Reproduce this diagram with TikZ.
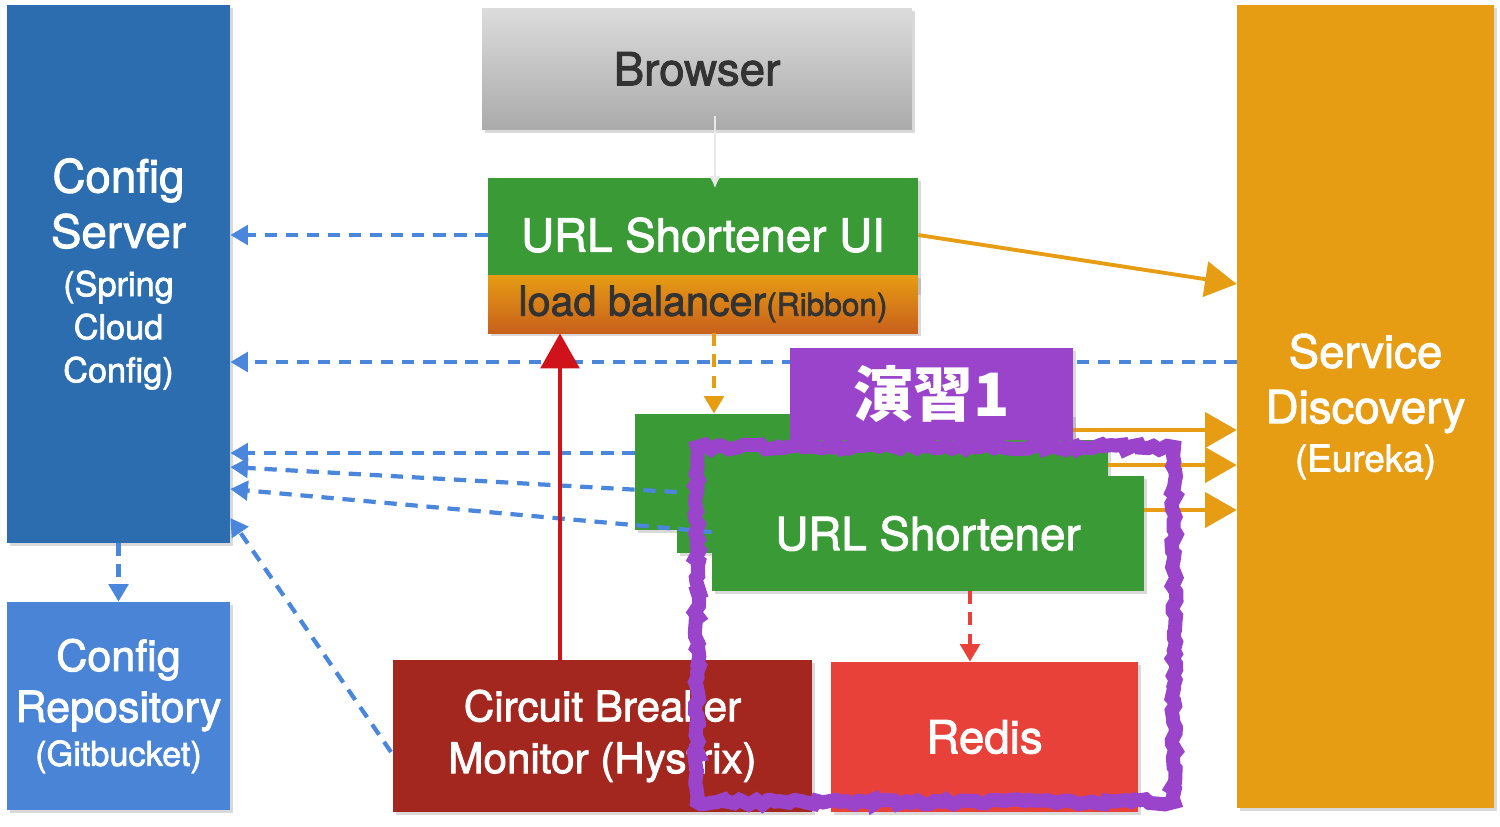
\documentclass[tikz,border=0pt]{standalone}
\usepackage{fontspec}
\setmainfont{TeX Gyre Heros}[FakeBold=2]
\newfontfamily\cjk{Noto Sans CJK JP}
\usetikzlibrary{arrows.meta, shadows, decorations.pathmorphing}
\definecolor{cfgblue}{HTML}{2B6DAE}
\definecolor{repoblue}{HTML}{4A84D6}
\definecolor{linkblue}{HTML}{4A86DC}
\definecolor{svcgreen}{HTML}{3A9A36}
\definecolor{eurorange}{HTML}{E69C13}
\definecolor{lbdark}{HTML}{C8601C}
\definecolor{hysred}{HTML}{A3271F}
\definecolor{redisred}{HTML}{E8413A}
\definecolor{arrred}{HTML}{D0121B}
\definecolor{labpurple}{HTML}{9A44CC}
\definecolor{txtdark}{HTML}{333333}
\newcommand{\bigtxt}{\fontsize{26}{31.5}\selectfont}
\newcommand{\smtxt}{\fontsize{19.5}{24}\selectfont}
\tikzstyle{box}=[rectangle, inner sep=0pt, align=center, text=white, drop shadow={opacity=0.3, shadow xshift=1.5pt, shadow yshift=-1.5pt}]
\tikzstyle{cfgarrow}=[-{Triangle[length=10pt,width=11pt]}, linkblue, line width=2.4pt, dash pattern=on 7pt off 5pt]
\tikzstyle{regarrow}=[-{Triangle[length=18pt,width=20pt]}, eurorange, line width=2.2pt]

\begin{document}
\begin{tikzpicture}[x=0.02cm, y=-0.02cm]
    \useasboundingbox (0,0) rectangle (1500,826);
    % rows and columns used by the connectors
    \coordinate (r284) at (0,284);
    \coordinate (r362) at (0,362);
    \coordinate (r430) at (0,430);
    \coordinate (r453) at (0,453);
    \coordinate (r465) at (0,465);
    \coordinate (r467) at (0,467);
    \coordinate (r489) at (0,489);
    \coordinate (r492) at (0,492);
    \coordinate (r510) at (0,510);
    \coordinate (r518) at (0,518);
    \coordinate (r532) at (0,532);
    \coordinate (hs) at (391,752);
    \coordinate (c560) at (560,0);
    \coordinate (c714) at (714,0);
    \coordinate (c715) at (715,0);
    \coordinate (c970) at (970,0);

    \node[box, fill=cfgblue, minimum width=4.46cm, minimum height=10.76cm, font=\bigtxt] (cs) at (118.5,274)
        {Config\\Server\\[-4pt]\smtxt (Spring\\[-7pt]\smtxt Cloud\\[-7pt]\smtxt Config)};
    \node[box, fill=repoblue, minimum width=4.46cm, minimum height=4.16cm, font=\fontsize{24.5}{29}\selectfont] (repo) at (118.5,706)
        {Config\\Repository\\[-4pt]\smtxt (Gitbucket)};
    \node[box, top color={rgb,255:red,220;green,220;blue,220}, bottom color={rgb,255:red,170;green,170;blue,170}, text=txtdark, minimum width=8.6cm, minimum height=2.44cm, font=\bigtxt] (br) at (697,69) {Browser};
    \node[box, fill=svcgreen, minimum width=8.6cm, minimum height=2.28cm, font=\bigtxt] (ui) at (703,235) {URL Shortener UI};
    \node[box, top color=eurorange, bottom color=lbdark, text=txtdark, minimum width=8.6cm, minimum height=1.16cm, font=\fontsize{23.5}{28}\selectfont] (lb) at (703,304)
        {load balancer{\fontsize{18}{22}\selectfont(Ribbon)}};
    \node[box, fill=eurorange, minimum width=5.14cm, minimum height=16.06cm, font=\bigtxt] (sd) at (1365.5,406.5)
        {Service\\Discovery\\[-4pt]\fontsize{21}{25}\selectfont (Eureka)};

    \node[box, fill=svcgreen, minimum width=8.76cm, minimum height=2.32cm] (us1) at (854,472) {};
    \node[box, fill=svcgreen, minimum width=8.62cm, minimum height=2.26cm] (us2) at (892.5,496.5) {};
    \node[box, fill=svcgreen, minimum width=8.64cm, minimum height=2.3cm, font=\bigtxt] (us) at (928,533.5) {URL Shortener};

    \node[box, fill=hysred, minimum width=8.38cm, minimum height=3.04cm, font=\fontsize{24}{29.5}\selectfont] (hys) at (602.5,736)
        {Circuit Breaker\\Monitor (Hystrix)};
    \node[box, fill=redisred, minimum width=6.14cm, minimum height=3cm, font=\bigtxt] (rd) at (984.5,737) {Redis};

    % config lookups
    \draw[cfgarrow] (ui.west) -- (cs.east |- ui.west);
    \draw[cfgarrow] (sd.west |- r362) -- (cs.east |- r362);
    \draw[cfgarrow] (us1.west |- r453) -- (cs.east |- r453);
    \draw[cfgarrow] (us2.west |- r492) -- (cs.east |- r467);
    \draw[cfgarrow] (us.west |- r532) -- (cs.east |- r489);
    \draw[cfgarrow] (hs) -- (cs.east |- r518);
    \draw[cfgarrow] (cs.south) -- (repo.north);

    % requests
    \draw[-{Latex[length=7pt,width=7pt]}, color={rgb,255:red,232;green,232;blue,232}, line width=1.6pt, shorten <=-8pt, shorten >=-6pt]
        (br.south -| c715) -- (ui.north -| c715);
    \draw[-{Triangle[length=10pt,width=11pt]}, eurorange, line width=2.4pt, dash pattern=on 7pt off 5pt]
        (lb.south -| c714) -- (us1.north -| c714);
    \draw[-{Triangle[length=10pt,width=11pt]}, redisred, line width=2.4pt, dash pattern=on 7pt off 5pt]
        (us.south -| c970) -- (rd.north -| c970);
    \draw[-{Triangle[length=20pt,width=22pt]}, arrred, line width=2.3pt]
        (hys.north -| c560) -- (lb.south -| c560);

    % registrations
    \draw[regarrow] (ui.east) -- (sd.west |- r284);
    \draw[regarrow] (us1.east |- r430) -- (sd.west |- r430);
    \draw[regarrow] (us2.east |- r465) -- (sd.west |- r465);
    \draw[regarrow] (us.east |- r510) -- (sd.west |- r510);

    % exercise frame
    \node[box, fill=labpurple, minimum width=5.66cm, minimum height=1.84cm, font=\cjk\bfseries\fontsize{34}{36}\selectfont] (ex) at (931.5,394) {演習1};
    \draw[labpurple, line width=8pt, decorate, decoration={random steps, segment length=3pt, amplitude=1.5pt}]
        (697,447) rectangle (1174,802);
\end{tikzpicture}
\end{document}
